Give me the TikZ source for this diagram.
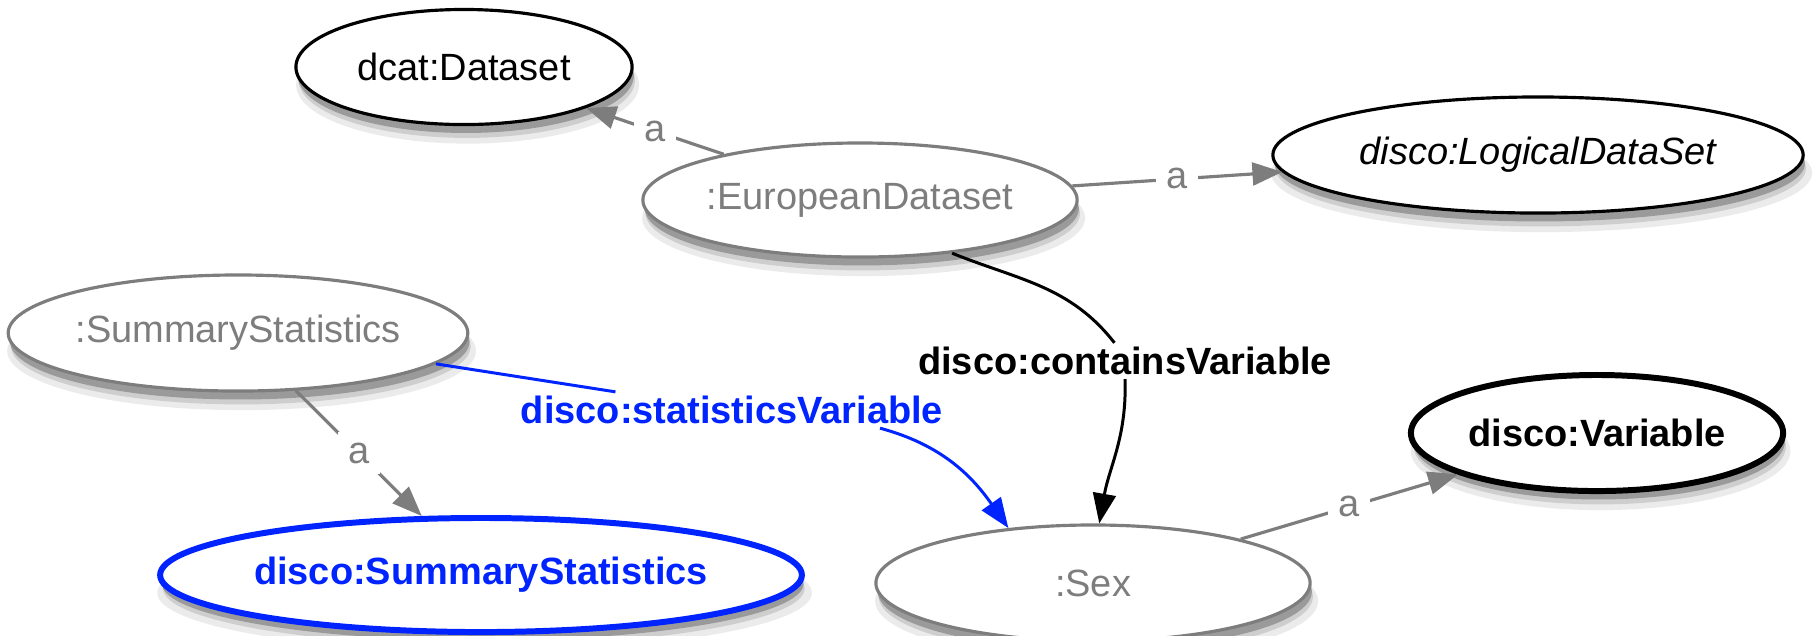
\documentclass[tikz,border=0pt]{standalone}
\usepackage{fontspec}
\setmainfont{Liberation Sans}
\usetikzlibrary{shapes.geometric, arrows.meta, shadows}
\definecolor{rdfgray}{RGB}{125,125,125}
\definecolor{rdfblue}{RGB}{0,36,255}
\newcommand*{\rdftype}[2]{%
\draw[typearrow] (#1) -- node[typelabel]{a} (#2);}

\begin{document}
\begin{tikzpicture}[x=0.01cm, y=-0.01cm,
  font=\fontsize{10.8}{13}\selectfont,
  >={Triangle[length=8.5pt, width=6.5pt]},
  res/.style={ellipse, draw=rdfgray, fill=white, text=rdfgray, line width=0.9pt, inner sep=0pt,
    general shadow={shadow xshift=1pt, shadow yshift=-5pt, shadow scale=1.02, opacity=0.08, fill=black},
    general shadow={shadow xshift=0.8pt, shadow yshift=-3.8pt, opacity=0.12, fill=black},
    general shadow={shadow xshift=0.5pt, shadow yshift=-2.4pt, opacity=0.25, fill=black}},
  cls/.style={res, draw=black, text=black},
  strong/.style={line width=1.7pt, font=\fontsize{10.8}{13}\selectfont\bfseries},
  typearrow/.style={->, draw=rdfgray, fill=rdfgray, line width=0.9pt},
  typelabel/.style={fill=white, text=rdfgray, inner sep=3pt},
  proplabel/.style={fill=white, inner sep=1pt, font=\fontsize{10.8}{13}\selectfont\bfseries}]

\useasboundingbox (0,0) rectangle (1813,635);

\node[cls, minimum width=3.36cm, minimum height=1.15cm] (dcatdataset) at (464,67) {dcat:Dataset};
\node[res, minimum width=4.34cm, minimum height=1.14cm] (europe) at (860,200) {:EuropeanDataset};
\node[cls, minimum width=5.3cm, minimum height=1.16cm] (logical) at (1538,155) {\itshape disco:LogicalDataSet};
\node[res, minimum width=4.5cm, minimum height=1.16cm] (sumstat) at (238,333) {:SummaryStatistics};
\node[cls, strong, draw=rdfblue, text=rdfblue, minimum width=6.26cm, minimum height=1.14cm] (sumclass) at (481,575) {disco:SummaryStatistics};
\node[res, minimum width=4.34cm, minimum height=1.16cm] (sex) at (1093,583) {:Sex};
\node[cls, strong, minimum width=3.72cm, minimum height=1.16cm] (variable) at (1597,433) {disco:Variable};

\rdftype{europe}{dcatdataset}
\rdftype{europe}{logical}
\rdftype{sumstat}{sumclass}
\rdftype{sex}{variable}

\node[proplabel] (containslabel) at (1125,361) {disco:containsVariable};
\node[proplabel, text=rdfblue] (statlabel) at (732,410) {disco:statisticsVariable};

\draw[line width=0.85pt] (europe.-30) to[out=-22, in=128] ([xshift=-3pt]containslabel.north);
\draw[->, line width=0.85pt] (containslabel.south) to[out=-88, in=80] (sex.84);

\draw[rdfblue, line width=0.85pt] (sumstat) -- (statlabel);
\draw[rdfblue, ->, line width=0.85pt] (statlabel.-7) to[out=-15, in=125] (sex.147);

\end{tikzpicture}
\end{document}
